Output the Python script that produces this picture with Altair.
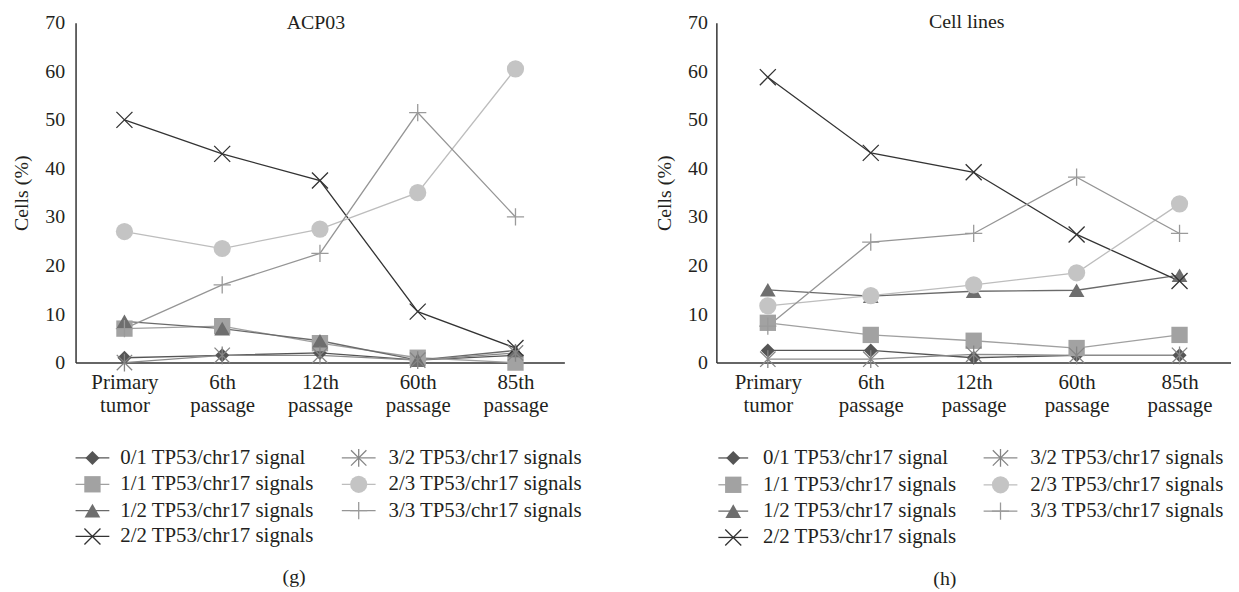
import altair as alt
import pandas as pd

# ---------------- data ----------------
passages = ["Primary|tumor", "6th|passage", "12th|passage", "60th|passage", "85th|passage"]
series = [
    "0/1 TP53/chr17 signal",
    "1/1 TP53/chr17 signals",
    "1/2 TP53/chr17 signals",
    "2/2 TP53/chr17 signals",
    "3/2 TP53/chr17 signals",
    "2/3 TP53/chr17 signals",
    "3/3 TP53/chr17 signals",
]

# ACP03 (g)
acp_01 = [1.0, 1.5, 2.0, 0.5, 1.5]
acp_11 = [7.0, 7.5, 4.0, 1.0, 0.0]
acp_12 = [8.5, 7.0, 4.5, 0.5, 2.5]
acp_22 = [50.0, 43.0, 37.5, 10.5, 3.0]
acp_32 = [0.0, 1.5, 1.5, 0.5, 2.0]
acp_23 = [27.0, 23.5, 27.5, 35.0, 60.5]
acp_33 = [7.0, 16.0, 22.5, 51.5, 30.0]

# Cell lines (h)
cl_01 = [2.5, 2.5, 1.0, 1.5, 1.5]
cl_11 = [8.2, 5.7, 4.5, 3.0, 5.7]
cl_12 = [15.0, 13.7, 14.7, 14.9, 18.0]
cl_22 = [58.8, 43.2, 39.2, 26.4, 16.8]
cl_32 = [0.7, 0.7, 1.7, 1.5, 1.5]
cl_23 = [11.7, 13.8, 16.0, 18.5, 32.7]
cl_33 = [7.5, 24.8, 26.6, 38.2, 26.6]

acp_values = [acp_01, acp_11, acp_12, acp_22, acp_32, acp_23, acp_33]
cl_values = [cl_01, cl_11, cl_12, cl_22, cl_32, cl_23, cl_33]

# ---------------- styles ----------------
FONT = "Liberation Serif"
TXT = "#231f20"
X_PATH = "M-1,-1L1,1M-1,1L1,-1"
STAR_PATH = "M-1,-1L1,1M-1,1L1,-1M0,-1.15L0,1.15"
PLUS_PATH = "M-1,0L1,0M0,-1L0,1"
styles = [
    # shape, filled, marker colour, line colour, size
    ("diamond", True, "#555555", "#555555", 200),
    ("square", True, "#a2a2a2", "#a0a0a0", 270),
    ("triangle-up", True, "#6e6e6e", "#6a6a6a", 250),
    (X_PATH, False, "#333333", "#333333", 260),
    (STAR_PATH, False, "#858585", "#8a8a8a", 240),
    ("circle", True, "#c4c4c4", "#bdbdbd", 300),
    (PLUS_PATH, False, "#9a9a9a", "#959595", 300),
]


def long_df(values):
    rows = []
    for s, vals in zip(series, values):
        for p, v in zip(passages, vals):
            rows.append({"series": s, "passage": p, "value": v})
    return pd.DataFrame(rows)


def make_panel(title, values, width, title_x, title_y, ylab_pad, legend_cols, legend_rows,
               caption, caption_x, caption_y):
    height = 342
    df = long_df(values)
    x_enc = alt.X(
        "passage:N",
        sort=passages,
        scale=alt.Scale(type="point", padding=0.5),
        axis=alt.Axis(
            title=None, labelExpr="split(datum.label, '|')", labelAngle=0,
            ticks=False, grid=False, domainColor="#333333", domainWidth=1.5,
            labelFont=FONT, labelFontSize=21, labelColor=TXT, labelPadding=9,
            labelLineHeight=23,
        ),
    )
    y_enc = alt.Y(
        "value:Q",
        scale=alt.Scale(domain=[0, 70], nice=False, zero=True),
        axis=alt.Axis(
            values=[0, 10, 20, 30, 40, 50, 60, 70], title="Cells (%)",
            titleFont=FONT, titleFontSize=20, titleFontWeight="normal", titleColor=TXT,
            titlePadding=13, labelFont=FONT, labelFontSize=20, labelColor=TXT,
            labelPadding=ylab_pad, ticks=False, grid=False,
            domainColor="#333333", domainWidth=1.5,
        ),
    )
    base = alt.Chart(df)
    layers = []
    for s, st in zip(series, styles):
        shape, filled, mcol, lcol, size = st
        layers.append(
            base.transform_filter(alt.datum.series == s)
            .mark_line(color=lcol, strokeWidth=1.3)
            .encode(x=x_enc, y=y_enc)
        )
    for s, st in zip(series, styles):
        shape, filled, mcol, lcol, size = st
        if filled:
            mk = base.mark_point(shape=shape, filled=True, color=mcol, size=size, opacity=1)
        else:
            mk = base.mark_point(shape=shape, filled=False, color=mcol, size=size,
                                 strokeWidth=1.3, opacity=1)
        layers.append(mk.transform_filter(alt.datum.series == s).encode(x=x_enc, y=y_enc))

    one = pd.DataFrame({"k": [0]})
    # panel title
    layers.append(
        alt.Chart(one).mark_text(text=title, font=FONT, fontSize=20, color=TXT,
                                 align="center", baseline="middle")
        .encode(x=alt.value(title_x), y=alt.value(title_y))
    )
    # legend (two columns, column-major)
    for i, (s, st) in enumerate(zip(series, styles)):
        shape, filled, mcol, lcol, size = st
        col = 0 if i < 4 else 1
        row = i if i < 4 else i - 4
        x0, x1, tx = legend_cols[col]
        yy = legend_rows[row]
        layers.append(
            alt.Chart(one).mark_rule(color=lcol, strokeWidth=1.3)
            .encode(x=alt.value(x0), x2=alt.value(x1), y=alt.value(yy))
        )
        if filled:
            lm = alt.Chart(one).mark_point(shape=shape, filled=True, color=mcol, size=size, opacity=1)
        else:
            lm = alt.Chart(one).mark_point(shape=shape, filled=False, color=mcol, size=size,
                                           strokeWidth=1.3, opacity=1)
        layers.append(lm.encode(x=alt.value((x0 + x1) / 2), y=alt.value(yy)))
        layers.append(
            alt.Chart(one).mark_text(text=s, font=FONT, fontSize=21, color=TXT,
                                     align="left", baseline="middle")
            .encode(x=alt.value(tx), y=alt.value(yy))
        )
    # caption
    layers.append(
        alt.Chart(one).mark_text(text=caption, font=FONT, fontSize=20, color=TXT,
                                 align="center", baseline="middle")
        .encode(x=alt.value(caption_x), y=alt.value(caption_y))
    )
    return alt.layer(*layers).properties(width=width, height=height)


left = make_panel(
    "ACP03", acp_values, 492, 242, 0, 11,
    legend_cols=[(0, 34, 45), (268, 302, 315)],
    legend_rows=[438, 464.5, 491, 517],
    caption="(g)", caption_x=220, caption_y=558,
)
right = make_panel(
    "Cell lines", cl_values, 518, 252, -1, 9,
    legend_cols=[(2, 32, 47), (269, 303, 316)],
    legend_rows=[438, 465, 491.5, 518],
    caption="(h)", caption_x=230, caption_y=560,
)

chart = (
    alt.hconcat(left, right, spacing=153, bounds="flush")
    .properties(
        padding={"left": 4, "top": 2, "right": 0, "bottom": 0},
        background="white",
    )
    .configure_view(stroke=None)
)

chart.save("out.html", embed_options={"renderer": "svg", "actions": False})
